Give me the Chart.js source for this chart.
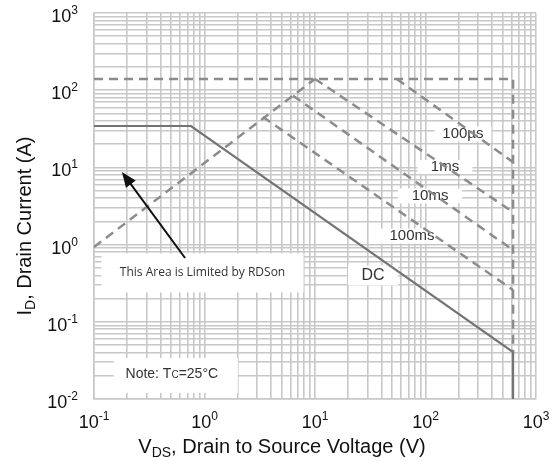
<!DOCTYPE html>
<html lang="en">
<head>
<meta charset="UTF-8">
<title>Safe Operating Area</title>
<script src="https://cdn.jsdelivr.net/npm/chart.js"></script>
<style>
  body { margin: 0; background: #fff; }
  #wrap { width: 557px; height: 461px; }
</style>
</head>
<body>
<div id="wrap"><canvas id="soaChart"></canvas></div>
<script>
// decade ticks of both log axes
const xDecades = [0.1, 1, 10, 100, 1000];
const yDecades = [0.01, 0.1, 1, 10, 100, 1000];

// curves (VDS in V, ID in A)
const dcV = [0.1, 0.755, 620, 620];
const dcI = [34.4, 34.4, 0.0406, 0.01];
const limitV = [0.1, 620, 620];
const limitI = [140, 140, 0.0406];
const rdsV = [0.1, 10];
const rdsI = [0.93, 140];
const us100V = [55, 620];
const us100I = [140, 11.7];
const ms1V = [10, 620];
const ms1I = [140, 2.64];
const ms10V = [6.32, 620];
const ms10I = [85, 0.85];
const ms100V = [3.38, 620];
const ms100I = [45, 0.258];

const curveNames = ['100µs', '1ms', '10ms', '100ms', 'DC'];

const pts = (xs, ys) => xs.map((x, i) => ({ x: x, y: ys[i] }));

// label boxes, placed in data coordinates
const boxes = [
  { text: curveNames[0], x: 218, y: 27.1, w: 57, h: 15, font: '15px "Liberation Sans", Arial' },
  { text: curveNames[1], x: 150, y: 10.1, w: 55, h: 14, font: '15px "Liberation Sans", Arial' },
  { text: curveNames[2], x: 110, y: 4.27, w: 64, h: 15, font: '15px "Liberation Sans", Arial' },
  { text: curveNames[3], x: 75.5, y: 1.29, w: 77, h: 15, font: '15px "Liberation Sans", Arial' },
  { text: curveNames[4], x: 33.5, y: 0.40, w: 50, h: 20, font: '16px "Liberation Sans", Arial' },
  { text: 'This Area is Limited by RDSon', x: 0.96, y: 0.43, w: 202, h: 39, font: '12px "Open Sans", sans-serif' }
];

function gridTicks(decades) {
  const out = [];
  for (let i = 0; i < decades.length - 1; i++) {
    for (let k = 1; k <= 9; k++) out.push({ value: k * decades[i] });
  }
  out.push({ value: decades[decades.length - 1] });
  return out;
}

// draws runs of [text, font, dy] side by side
function runs(ctx, parts, x, y, align) {
  let total = 0;
  parts.forEach(p => { ctx.font = p[1]; total += ctx.measureText(p[0]).width; });
  let cx = align === 'center' ? x - total / 2 : align === 'right' ? x - total : x;
  ctx.textAlign = 'left';
  parts.forEach(p => {
    ctx.font = p[1];
    ctx.fillText(p[0], cx, y + (p[2] || 0));
    cx += ctx.measureText(p[0]).width;
  });
}

const big = '18px "Liberation Sans", Arial';
const sup = '12px "Liberation Sans", Arial';
const titleFont = '20px "Liberation Sans", Arial';
const subFont = '14px "Liberation Sans", Arial';

const decor = {
  id: 'decor',
  beforeDatasetsDraw(chart) {
    const { ctx, scales: { x, y } } = chart;
    ctx.save();
    ctx.textBaseline = 'middle';
    boxes.forEach(b => {
      const px = x.getPixelForValue(b.x), py = y.getPixelForValue(b.y);
      ctx.fillStyle = '#fff';
      ctx.fillRect(px - b.w / 2, py - b.h / 2, b.w, b.h);
      ctx.fillStyle = '#333';
      ctx.font = b.font;
      ctx.textAlign = 'center';
      ctx.fillText(b.text, px, py);
    });
    // note box
    const nx = x.getPixelForValue(0.55), ny = y.getPixelForValue(0.0205);
    ctx.fillStyle = '#fff';
    ctx.fillRect(nx - 62, ny - 17, 124, 35);
    ctx.fillStyle = '#333';
    runs(ctx, [['Note: T', '14px "Liberation Sans", Arial'], ['C', '10px "Liberation Sans", Arial', 1],
      ['=25°C', '14px "Liberation Sans", Arial']], nx - 4, ny - 1, 'center');
    ctx.restore();
  },
  afterDraw(chart) {
    const { ctx, scales: { x, y }, chartArea } = chart;
    ctx.save();
    ctx.fillStyle = '#111';
    ctx.textBaseline = 'alphabetic';
    xDecades.forEach(v => {
      const e = Math.round(Math.log10(v));
      runs(ctx, [['10', big], [String(e), sup, -8]], x.getPixelForValue(v), chartArea.bottom + 29, 'center');
    });
    yDecades.forEach(v => {
      const e = Math.round(Math.log10(v));
      runs(ctx, [['10', big], [String(e), sup, -8]], chartArea.left - 16, y.getPixelForValue(v) + 9, 'right');
    });
    // axis titles
    runs(ctx, [['V', titleFont], ['DS', subFont, 4], [', Drain to Source Voltage (V)', titleFont]], 282, 453, 'center');
    ctx.translate(31, 226);
    ctx.rotate(-Math.PI / 2);
    runs(ctx, [['I', titleFont], ['D', subFont, 4], [', Drain Current (A)', titleFont]], 0, 0, 'center');
    ctx.restore();

    // arrow pointing into the RDSon limited area
    const tx = x.getPixelForValue(0.667), ty = y.getPixelForValue(0.67);
    const hx = x.getPixelForValue(0.179), hy = y.getPixelForValue(8.7);
    const ang = Math.atan2(hy - ty, hx - tx);
    ctx.save();
    ctx.strokeStyle = '#111';
    ctx.fillStyle = '#111';
    ctx.lineWidth = 2;
    ctx.beginPath();
    ctx.moveTo(tx, ty);
    ctx.lineTo(hx - 10 * Math.cos(ang), hy - 10 * Math.sin(ang));
    ctx.stroke();
    ctx.beginPath();
    ctx.moveTo(hx, hy);
    ctx.lineTo(hx - 15 * Math.cos(ang) + 6 * Math.sin(ang), hy - 15 * Math.sin(ang) - 6 * Math.cos(ang));
    ctx.lineTo(hx - 15 * Math.cos(ang) - 6 * Math.sin(ang), hy - 15 * Math.sin(ang) + 6 * Math.cos(ang));
    ctx.closePath();
    ctx.fill();
    ctx.restore();
  }
};

const dashed = { borderColor: '#8c8c8c', borderWidth: 2.5, borderDash: [9, 6] };
const line = (data, style) => Object.assign({ data: data, showLine: true, pointRadius: 0, fill: false, tension: 0 }, style);

const gridStyle = { color: '#c8c8c8', lineWidth: 1.6, drawTicks: false };

new Chart(document.getElementById('soaChart'), {
  type: 'scatter',
  data: {
    datasets: [
      line(pts(dcV, dcI), { borderColor: '#747474', borderWidth: 2.2 }),
      line(pts(limitV, limitI), dashed),
      line(pts(rdsV, rdsI), dashed),
      line(pts(us100V, us100I), dashed),
      line(pts(ms1V, ms1I), dashed),
      line(pts(ms10V, ms10I), dashed),
      line(pts(ms100V, ms100I), dashed)
    ]
  },
  options: {
    responsive: true,
    maintainAspectRatio: false,
    animation: false,
    layout: { padding: { left: 94, right: 21, top: 13, bottom: 62 } },
    plugins: { legend: { display: false }, tooltip: { enabled: false } },
    scales: {
      x: {
        type: 'logarithmic', min: 0.1, max: 1000,
        afterBuildTicks: s => { s.ticks = gridTicks(xDecades); },
        ticks: { display: false },
        grid: gridStyle,
        border: { color: '#c8c8c8', width: 1.6 }
      },
      y: {
        type: 'logarithmic', min: 0.01, max: 1000,
        afterBuildTicks: s => { s.ticks = gridTicks(yDecades); },
        ticks: { display: false },
        grid: gridStyle,
        border: { color: '#c8c8c8', width: 1.6 }
      }
    }
  },
  plugins: [decor]
});
</script>
</body>
</html>
